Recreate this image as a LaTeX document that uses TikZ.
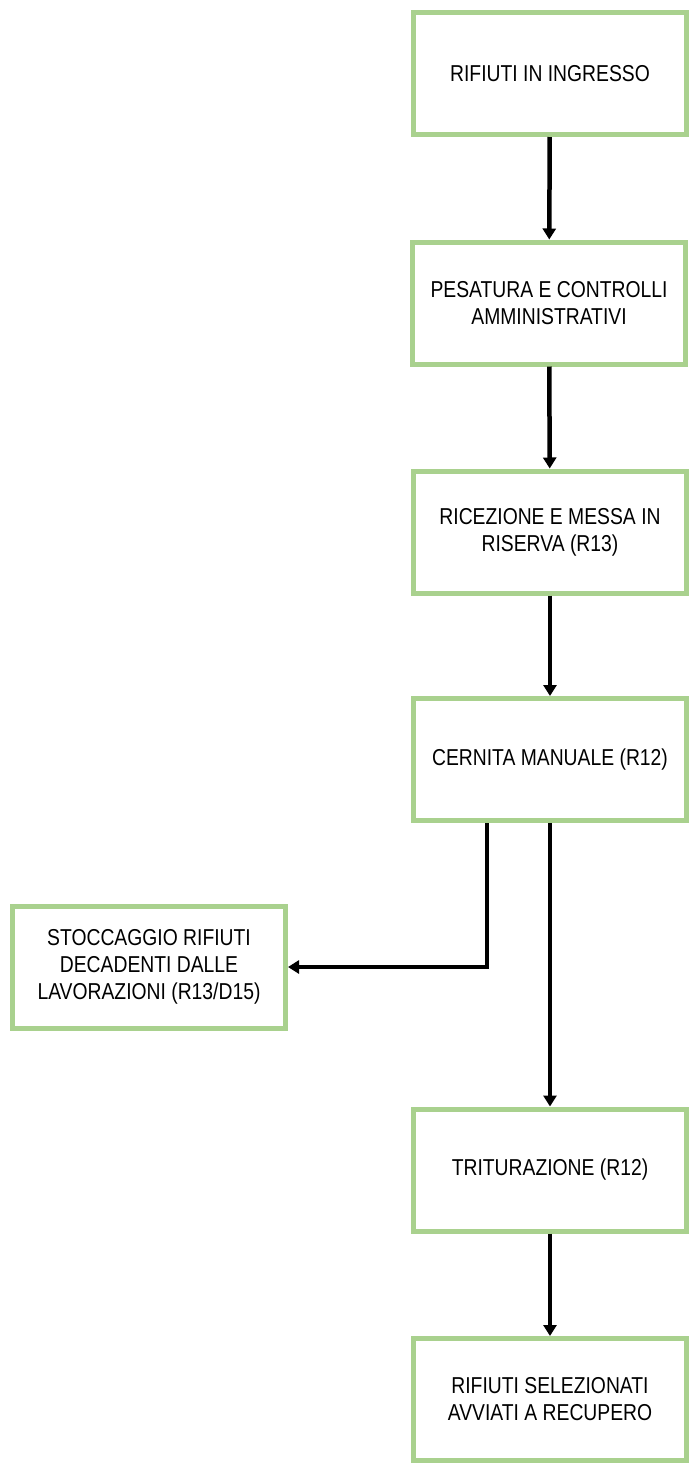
\documentclass[tikz,border=0pt]{standalone}
\usepackage{fontspec}
\setmainfont{Liberation Sans}[FakeStretch=0.84]
\usetikzlibrary{arrows.meta}
\definecolor{boxgreen}{RGB}{169,209,142}

\begin{document}
\begin{tikzpicture}[x=1pt,y=-1pt,
  stepbox/.style={draw=boxgreen,line width=5pt,fill=white,align=center,
    minimum width=273pt,minimum height=122pt,
    font=\fontsize{23}{27}\selectfont},
  flow/.style={line width=4.5pt,-{Triangle[width=13pt,length=11pt]}}]
\useasboundingbox (0,0) rectangle (694,1465);

\begin{scope}[every node/.style={stepbox}]
\node (rifiuti) at (550,73.5) {RIFIUTI IN INGRESSO};
\node (pesatura) at (549,303) {PESATURA E CONTROLLI\\AMMINISTRATIVI};
\node (ricezione) at (550,532) {RICEZIONE E MESSA IN\\RISERVA (R13)};
\node (cernita) at (550,759.5) {CERNITA MANUALE (R12)};
\node (stoccaggio) at (149,967) {STOCCAGGIO RIFIUTI\\DECADENTI DALLE\\LAVORAZIONI (R13/D15)};
\node (triturazione) at (550,1170) {TRITURAZIONE (R12)};
\node (selezionati) at (550,1399.5) {RIFIUTI SELEZIONATI\\AVVIATI A RECUPERO};
\end{scope}

\coordinate (branch) at (487,822);

\begin{scope}[every path/.style={flow}]
\draw (rifiuti) -- (pesatura);
\draw (pesatura) -- (ricezione);
\draw (ricezione) -- (cernita);
\draw (cernita.south -| branch) |- (stoccaggio.east);
\draw (cernita) -- (triturazione);
\draw (triturazione) -- (selezionati);
\end{scope}
\end{tikzpicture}
\end{document}
